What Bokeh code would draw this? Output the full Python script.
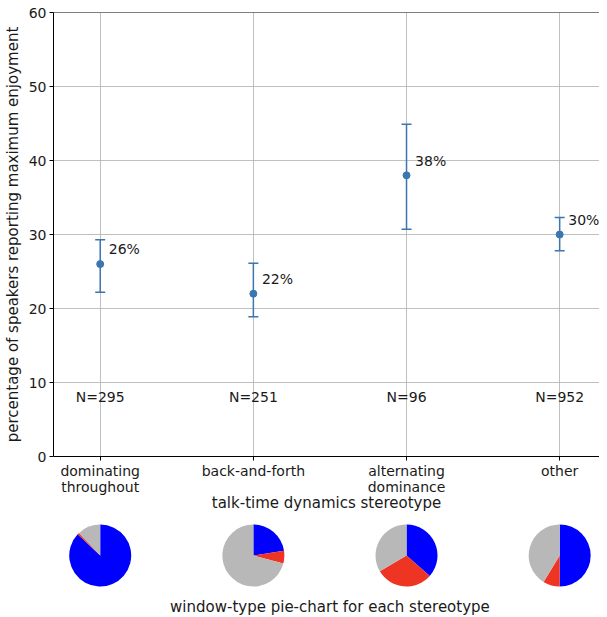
import math
from bokeh.plotting import figure
from bokeh.models import Range1d, FixedTicker, Whisker, TeeHead, ColumnDataSource, Span
from bokeh.layouts import column
from bokeh.embed import file_html
from bokeh.resources import INLINE
from bokeh.core.properties import value

# ---- data ----
categories = ["dominating\nthroughout", "back-and-forth", "alternating\ndominance", "other"]
percent = [26, 22, 38, 30]
ci_low = [22.2, 18.9, 30.7, 27.8]
ci_high = [29.3, 26.1, 44.9, 32.3]
n_speakers = [295, 251, 96, 952]
pie_blue = [0.87, 0.226, 0.365, 0.50]
pie_red = [0.01, 0.066, 0.30, 0.087]
pie_gray = [0.12, 0.708, 0.335, 0.413]
yticks = [0, 10, 20, 30, 40, 50, 60]

FONT = "DejaVu Sans"
TXT = "#1a1a1a"
BLUE = "#3b76b0"

xpos = list(range(len(categories)))
xr = Range1d(-0.305, 3.26)

src = ColumnDataSource(dict(
    x=xpos, y=percent, lo=ci_low, hi=ci_high,
    lx=[v + 0.056 for v in xpos], ly=[v + 2 for v in percent],
    lab=[f"{v}%" for v in percent],
    ny=[8] * len(xpos), ntext=[f"N={n}" for n in n_speakers],
))

W = 599
H1 = 514
H2 = 103
p = figure(width=W, height=H1, x_range=xr, y_range=Range1d(0, 60),
           output_backend="svg", toolbar_location=None,
           min_border_left=45, min_border_right=0, min_border_top=12, min_border_bottom=58)
p.outline_line_color = None
p.background_fill_color = "white"
p.border_fill_color = "white"

for g in (p.xgrid, p.ygrid):
    g.grid_line_color = "#b0b0b0"
    g.grid_line_width = 0.8

p.yaxis.ticker = FixedTicker(ticks=yticks)
p.xaxis.ticker = FixedTicker(ticks=xpos)
p.xaxis.major_label_overrides = {i: c for i, c in zip(xpos, categories)}
for ax in (p.xaxis, p.yaxis):
    ax.axis_line_color = "black"
    ax.major_tick_line_color = "black"
    ax.major_tick_out = 4
    ax.major_tick_in = 0
    ax.minor_tick_line_color = None
    ax.major_label_text_font = FONT
    ax.major_label_text_font_size = "14px"
    ax.major_label_text_color = TXT
    ax.major_label_text_line_height = 1.0
    ax.axis_label_text_font = FONT
    ax.axis_label_text_font_size = "15px"
    ax.axis_label_text_font_style = "normal"
    ax.axis_label_text_color = TXT
p.yaxis.axis_label = "percentage of speakers reporting maximum enjoyment"
p.yaxis.axis_label_standoff = 4
p.yaxis.major_label_standoff = 3
p.xaxis.axis_label = "talk-time dynamics stereotype"
p.xaxis.axis_label_standoff = -4
p.xaxis.major_label_standoff = 2

p.add_layout(Span(location=60, dimension="width", line_color="black", line_width=1))

w = Whisker(base="x", lower="lo", upper="hi", source=src, line_color=BLUE, line_width=1.5,
            upper_head=TeeHead(size=10, line_color=BLUE, line_width=1.5),
            lower_head=TeeHead(size=10, line_color=BLUE, line_width=1.5))
p.add_layout(w)
p.scatter("x", "y", source=src, size=7, color=BLUE)

p.text("lx", "ly", text="lab", source=src, text_font=value(FONT), text_font_size="14px",
       text_color=TXT, text_align="left", text_baseline="middle")
p.text("x", "ny", text="ntext", source=src, text_font=value(FONT), text_font_size="14px",
       text_color=TXT, text_align="center", text_baseline="middle")

p2 = figure(width=W, height=H2, x_range=xr, y_range=Range1d(0, H2),
            output_backend="svg", toolbar_location=None, x_axis_type=None, y_axis_type=None,
            min_border_left=45, min_border_right=0, min_border_top=0, min_border_bottom=0)
p2.outline_line_color = None
p2.xgrid.visible = False
p2.ygrid.visible = False

colors = ["#0000ff", "#ee3524", "#b8b8b8"]
wx, ws, we, wc = [], [], [], []
for i in xpos:
    cum = 0.0
    for frac, col in zip((pie_blue[i], pie_red[i], pie_gray[i]), colors):
        wx.append(i)
        ws.append(math.pi / 2 - cum * 2 * math.pi)
        cum += frac
        we.append(math.pi / 2 - cum * 2 * math.pi)
        wc.append(col)
psrc = ColumnDataSource(dict(x=wx, y=[62] * len(wx), s=ws, e=we, c=wc))
p2.wedge(x="x", y="y", radius=31, radius_units="screen", start_angle="s", end_angle="e",
         direction="clock", fill_color="c", line_color=None, source=psrc)

p2.text(x=[1.5], y=[11], text=["window-type pie-chart for each stereotype"],
        text_font=value(FONT), text_font_size="15px", text_color=TXT,
        text_align="center", text_baseline="middle")

layout = column(p, p2, spacing=0)
open("out.html", "w").write(file_html(layout, INLINE))
